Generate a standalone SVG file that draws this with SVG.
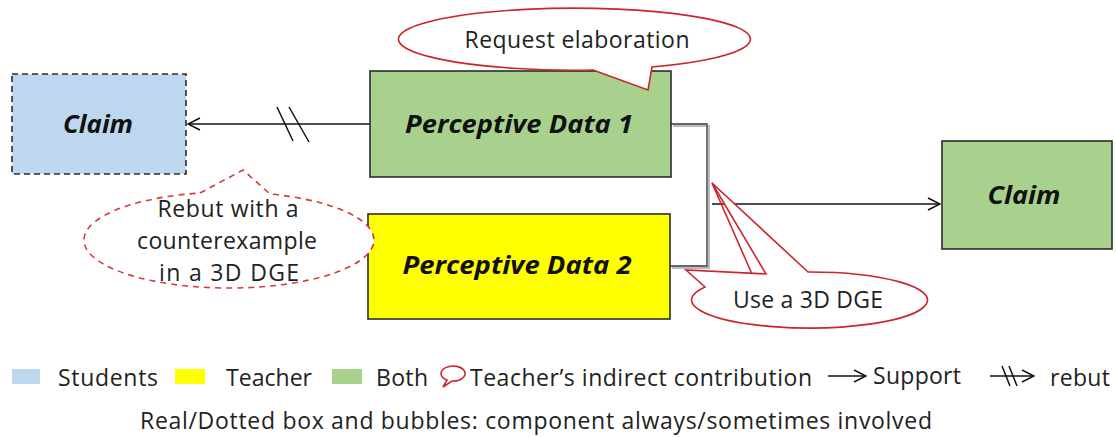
<svg xmlns="http://www.w3.org/2000/svg" width="1116" height="437" viewBox="0 0 1116 437">
<defs>
<style>
.box{stroke:#2b2b2b;stroke-width:1.6}
.lbl{font-family:"Open Sans","Noto Sans",sans-serif;font-weight:bold;font-style:italic;font-size:25px;fill:#111;text-anchor:middle}
.txt{font-family:"Open Sans","Noto Sans",sans-serif;font-size:23px;fill:#222}
.mid{text-anchor:middle}
.bub{fill:#fff;stroke:#c8282c;stroke-width:1.6;stroke-linejoin:miter}
.bubd{fill:#fff;stroke:#d63a3a;stroke-width:1.6;stroke-dasharray:6,5}
.conn{fill:none;stroke:#111;stroke-width:1.5}
</style>
<marker id="arr" viewBox="0 0 14 14" refX="13" refY="7" markerWidth="14" markerHeight="14" markerUnits="userSpaceOnUse" orient="auto">
<path d="M1,1 L13,7 L1,13" fill="none" stroke="#111" stroke-width="1.5"/>
</marker>
</defs>
<rect width="1116" height="437" fill="#fff"/>

<g id="connectors">
<line class="conn" x1="370" y1="124" x2="188" y2="124" marker-end="url(#arr)"/>
<line class="conn" x1="277" y1="107" x2="293" y2="141"/>
<line class="conn" x1="289" y1="107" x2="309" y2="142"/>
<path d="M673,126 H709 V268 H672" fill="none" stroke="#bbb" stroke-width="2"/>
<path d="M671,124 H707 V266 H670" fill="none" stroke="#666" stroke-width="1.8"/>
<line class="conn" x1="712" y1="204" x2="940" y2="204" marker-end="url(#arr)"/>
</g>

<g id="claim-left">
<rect x="12" y="74" width="174" height="100" fill="#bdd7ee" stroke="#2b2b2b" stroke-width="1.6" stroke-dasharray="6,4"/>
<text class="lbl" x="98" y="133" textLength="70" lengthAdjust="spacingAndGlyphs">Claim</text>
</g>

<g id="pd1">
<rect class="box" x="370" y="71" width="301" height="106" fill="#a9d18e"/>
<text class="lbl" x="519" y="133" textLength="228" lengthAdjust="spacingAndGlyphs">Perceptive Data 1</text>
</g>

<g id="pd2">
<rect class="box" x="368" y="214" width="302" height="105" fill="#ffff00"/>
<text class="lbl" x="517" y="274" textLength="229" lengthAdjust="spacingAndGlyphs">Perceptive Data 2</text>
</g>

<g id="claim-right">
<rect class="box" x="942" y="141" width="170" height="108" fill="#a9d18e"/>
<text class="lbl" x="1024" y="204" textLength="73" lengthAdjust="spacingAndGlyphs">Claim</text>
</g>

<g id="bubble-request">
<path class="bub" d="M593,70 L648,90 L652,67 A176,31 0 1 0 593,70 Z"/>
<text class="txt mid" x="577" y="48" textLength="225">Request elaboration</text>
</g>

<g id="bubble-rebut">
<path class="bubd" d="M200,193 L243,170 L270,194 A145,48 0 1 1 200,193 Z"/>
<text class="txt mid" x="228" y="217" textLength="141">Rebut with a</text>
<text class="txt mid" x="227" y="249" textLength="180">counterexample</text>
<text class="txt mid" x="229" y="281" textLength="140">in a 3D DGE</text>
</g>

<g id="bubble-use">
<path class="bub" d="M808,272 L712,183 L766,274 L686,270 L705,287 A118,28 0 1 0 808,272 Z"/>
<line x1="712" y1="183" x2="752" y2="274" stroke="#c8282c" stroke-width="1.6"/>
<text class="txt mid" x="808" y="308" textLength="150">Use a 3D DGE</text>
</g>

<g id="legend">
<rect x="12" y="369" width="28" height="15" fill="#bdd7ee"/>
<text class="txt" x="58" y="386" textLength="100">Students</text>
<rect x="175" y="369" width="30" height="15" fill="#ffff00"/>
<text class="txt" x="226" y="386" textLength="86">Teacher</text>
<rect x="332" y="369" width="30" height="15" fill="#a9d18e"/>
<text class="txt" x="376" y="386" textLength="52">Both</text>
<path d="M443,387 L447,380 A12,7.5 0 1 1 452,381 Z" fill="#fff" stroke="#c8282c" stroke-width="1.6"/>
<text class="txt" x="470" y="386" textLength="342">Teacher’s indirect contribution</text>
<line class="conn" x1="828" y1="376" x2="866" y2="376" marker-end="url(#arr)"/>
<text class="txt" x="873" y="384" textLength="88">Support</text>
<line class="conn" x1="990" y1="376" x2="1034" y2="376" marker-end="url(#arr)"/>
<line class="conn" x1="1002" y1="366" x2="1010" y2="386"/>
<line class="conn" x1="1009" y1="366" x2="1017" y2="386"/>
<text class="txt" x="1050" y="386" textLength="60">rebut</text>
<text class="txt" x="140" y="429" textLength="792">Real/Dotted box and bubbles: component always/sometimes involved</text>
</g>
</svg>
